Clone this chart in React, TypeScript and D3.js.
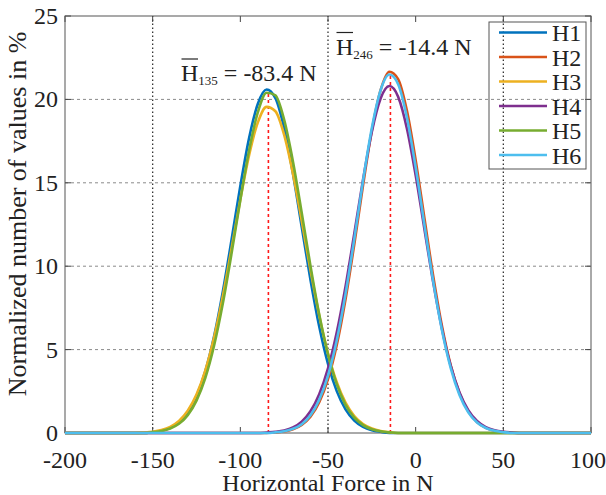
import React from 'react';
import * as d3 from 'd3';

// bin centres of the force histogram (N)
const FORCE = d3.range(-200, 101, 5);

// normalized number of values in %
const H1 = [0, 0, 0, 0, 0, 0, 0, 0, 0, 0, 0.06, 0.14, 0.31, 0.64, 1.23, 2.2, 3.69, 5.78, 8.47, 11.59, 14.81, 17.69, 19.74, 20.59, 20.07, 18.27, 15.55, 12.36, 9.19, 6.38, 4.14, 2.51, 1.42, 0.75, 0.37, 0.17, 0.07, 0, 0, 0, 0, 0, 0, 0, 0, 0, 0, 0, 0, 0, 0, 0, 0, 0, 0, 0, 0, 0, 0, 0, 0];
const H2 = [0, 0, 0, 0, 0, 0, 0, 0, 0, 0, 0, 0, 0, 0, 0, 0, 0, 0, 0, 0, 0, 0, 0, 0, 0.04, 0.09, 0.22, 0.48, 0.97, 1.84, 3.23, 5.28, 8.02, 11.32, 14.86, 18.13, 20.55, 21.66, 21.22, 19.33, 16.36, 12.88, 9.42, 6.41, 4.05, 2.38, 1.3, 0.66, 0.31, 0.14, 0.06, 0.02, 0, 0, 0, 0, 0, 0, 0, 0, 0];
const H3 = [0, 0, 0, 0, 0, 0, 0, 0, 0, 0.03, 0.08, 0.18, 0.37, 0.72, 1.33, 2.3, 3.74, 5.72, 8.2, 11.06, 14.0, 16.66, 18.62, 19.55, 19.29, 17.87, 15.55, 12.72, 9.77, 7.05, 4.78, 3.04, 1.82, 1.02, 0.54, 0.27, 0.12, 0.05, 0, 0, 0, 0, 0, 0, 0, 0, 0, 0, 0, 0, 0, 0, 0, 0, 0, 0, 0, 0, 0, 0, 0];
const H4 = [0, 0, 0, 0, 0, 0, 0, 0, 0, 0, 0, 0, 0, 0, 0, 0, 0, 0, 0, 0, 0, 0, 0, 0.03, 0.07, 0.15, 0.33, 0.68, 1.3, 2.32, 3.87, 6.04, 8.79, 11.96, 15.2, 18.06, 20.05, 20.8, 20.16, 18.26, 15.45, 12.22, 9.03, 6.24, 4.02, 2.43, 1.37, 0.72, 0.35, 0.16, 0.07, 0.03, 0, 0, 0, 0, 0, 0, 0, 0, 0];
const H5 = [0, 0, 0, 0, 0, 0, 0, 0, 0, 0, 0.05, 0.12, 0.27, 0.55, 1.07, 1.94, 3.29, 5.23, 7.76, 10.77, 13.97, 16.95, 19.23, 20.4, 20.24, 18.77, 16.28, 13.21, 10.02, 7.1, 4.71, 2.92, 1.69, 0.92, 0.47, 0.22, 0.1, 0.04, 0, 0, 0, 0, 0, 0, 0, 0, 0, 0, 0, 0, 0, 0, 0, 0, 0, 0, 0, 0, 0, 0, 0];
const H6 = [0, 0, 0, 0, 0, 0, 0, 0, 0, 0, 0, 0, 0, 0, 0, 0, 0, 0, 0, 0, 0, 0, 0, 0, 0.04, 0.11, 0.25, 0.53, 1.06, 1.99, 3.44, 5.56, 8.34, 11.64, 15.13, 18.28, 20.55, 21.49, 20.91, 18.92, 15.93, 12.48, 9.09, 6.16, 3.89, 2.28, 1.24, 0.63, 0.3, 0.13, 0.05, 0, 0, 0, 0, 0, 0, 0, 0, 0, 0];

const SERIES_NAMES = ['H1', 'H2', 'H3', 'H4', 'H5', 'H6'];
const SERIES_VALUES = [H1, H2, H3, H4, H5, H6];
const COLORS = ['#0072BD', '#D95319', '#EDB120', '#7E2F8E', '#77AC30', '#4DBEEE'];

const X_TICKS = [-200, -150, -100, -50, 0, 50, 100];
const Y_TICKS = [0, 5, 10, 15, 20, 25];
const X_GRID = [-150, -50, 50];
const Y_GRID = [5, 10, 15, 20];

// mean markers (red dotted lines) and their labels
const MEAN_X = [-84, -14.4];
const MEAN_TOP = [20.6, 21.7];
const MEAN_SUB = ['135', '246'];
const MEAN_TEXT = ['-83.4 N', '-14.4 N'];

const W = 606;
const H = 495;
const margin = { left: 65, right: 15, top: 16, bottom: 62 };
const FONT = '"Liberation Serif", "Times New Roman", serif';

export default function App() {
  const x = d3.scaleLinear().domain([-200, 100]).range([margin.left, W - margin.right]);
  const y = d3.scaleLinear().domain([0, 25]).range([H - margin.bottom, margin.top]);
  const [x0, x1] = x.range();
  const [y0, y1] = y.range();

  const line = d3.line<number>()
    .x((_, i) => x(FORCE[i]))
    .y(d => y(d))
    .curve(d3.curveMonotoneX);

  const annot = [
    { x: 181, y: 81 },
    { x: 336, y: 54.5 },
  ];

  const legX = 489;
  const legY = 22;

  return (
    <svg width={W} height={H} style={{ position: 'absolute', left: 0, top: 0, background: '#fff' }}
      fontFamily={FONT}>
      {/* grid */}
      {Y_GRID.map(v => (
        <line key={'gy' + v} x1={x0} x2={x1} y1={y(v)} y2={y(v)}
          stroke="#8a8a8a" strokeWidth={1} strokeDasharray="3,3" />
      ))}
      {X_GRID.map(v => (
        <line key={'gx' + v} x1={x(v)} x2={x(v)} y1={y0} y2={y1}
          stroke="#333" strokeWidth={1.3} strokeDasharray="1.5,2.5" />
      ))}

      {/* ticks */}
      {X_TICKS.map(v => (
        <g key={'tx' + v}>
          <line x1={x(v)} x2={x(v)} y1={y0} y2={y0 - 6} stroke="#444" />
          <line x1={x(v)} x2={x(v)} y1={y1} y2={y1 + 6} stroke="#444" />
          <text x={v === 100 ? x(v) - 3 : x(v)} y={y0 + 35} textAnchor="middle" fontSize={24} fill="#222">{v}</text>
        </g>
      ))}
      {Y_TICKS.map(v => (
        <g key={'ty' + v}>
          <line x1={x0} x2={x0 + 6} y1={y(v)} y2={y(v)} stroke="#444" />
          <line x1={x1} x2={x1 - 6} y1={y(v)} y2={y(v)} stroke="#444" />
          <text x={x0 - 7} y={y(v) + 8} textAnchor="end" fontSize={24} fill="#222">{v}</text>
        </g>
      ))}

      {/* axes box */}
      <rect x={x0} y={y1} width={x1 - x0} height={y0 - y1} fill="none" stroke="#555" strokeWidth={1} />

      {/* mean lines */}
      {MEAN_X.map((m, i) => (
        <line key={'m' + i} x1={x(m)} x2={x(m)} y1={y(0)} y2={y(MEAN_TOP[i])}
          stroke="#ff1a1a" strokeWidth={1.6} strokeDasharray="3,3" />
      ))}

      {/* curves */}
      {SERIES_VALUES.map((vals, i) => (
        <path key={SERIES_NAMES[i]} d={line(vals) || ''} fill="none"
          stroke={COLORS[i]} strokeWidth={2.6} strokeLinejoin="round" />
      ))}

      {/* annotations */}
      {annot.map((a, i) => (
        <g key={'a' + i}>
          <line x1={a.x + 0.5} x2={a.x + 17} y1={a.y - 22} y2={a.y - 22} stroke="#222" strokeWidth={1.2} />
          <text x={a.x} y={a.y} fontSize={24} fill="#222">
            H<tspan fontSize={13} dy={4}>{MEAN_SUB[i]}</tspan>
            <tspan dy={-4}>{' = ' + MEAN_TEXT[i]}</tspan>
          </text>
        </g>
      ))}

      {/* legend */}
      <rect x={legX} y={legY} width={97} height={147} fill="none" stroke="#555" strokeWidth={1} />
      {SERIES_NAMES.map((n, i) => {
        const ly = 32.5 + i * 24.5;
        return (
          <g key={'l' + n}>
            <line x1={legX + 10} x2={legX + 58} y1={ly} y2={ly} stroke={COLORS[i]} strokeWidth={2.6} />
            <text x={legX + 63} y={ly + 8.5} fontSize={24} fill="#222">{n}</text>
          </g>
        );
      })}

      {/* axis titles */}
      <text x={(x0 + x1) / 2} y={H - 4} textAnchor="middle" fontSize={24} fill="#222">Horizontal Force in N</text>
      <text transform={`translate(26,214) rotate(-90)`} textAnchor="middle" fontSize={26} fill="#222">
        Normalized number of values in %
      </text>
    </svg>
  );
}
